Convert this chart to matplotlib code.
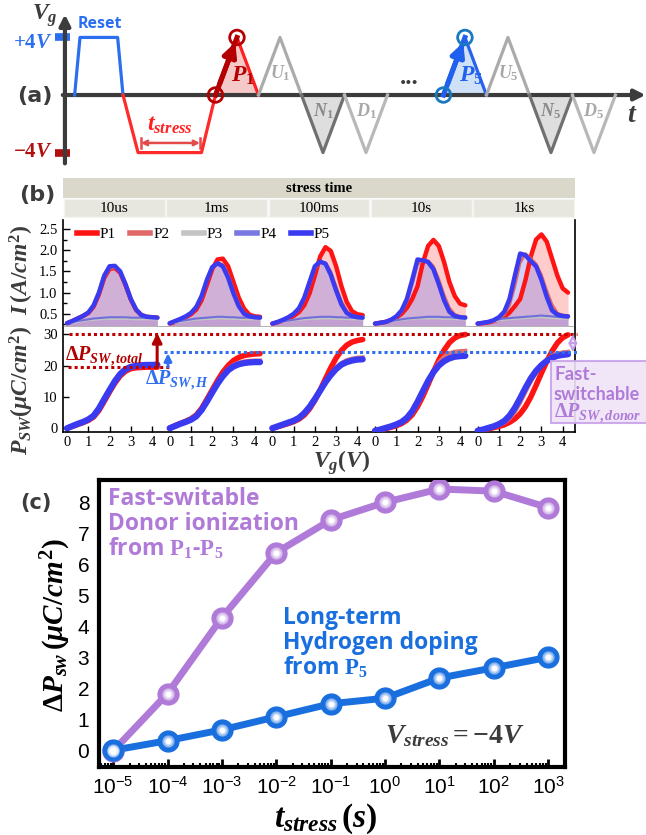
import matplotlib.pyplot as plt
from matplotlib.patches import Rectangle
from matplotlib.lines import Line2D
from matplotlib.ticker import MultipleLocator, LogLocator, NullFormatter

W, H = 646, 835
plt.rcParams['font.family'] = ['Liberation Serif', 'DejaVu Serif']
plt.rcParams['mathtext.fontset'] = 'custom'
plt.rcParams['mathtext.rm'] = 'Liberation Serif:bold'
plt.rcParams['mathtext.it'] = 'Liberation Serif:italic:bold'
plt.rcParams['mathtext.bf'] = 'Liberation Serif:bold'
plt.rcParams['mathtext.sf'] = 'Liberation Sans'

# ---------------- (a) pulse scheme, t in units of half a triangle, V in volts
reset_t = [0.45, 0.7, 2.45, 2.7]
reset_v = [0, 4, 4, 0]
stress_t = [2.7, 3.4, 6.35, 7.0]
stress_v = [0, -4, -4, 0]
pulse_start = [7.0, 9.0, 11.0, 13.0, 17.6, 19.6, 21.6, 23.6]
pulse_sign = [1, 1, -1, -1, 1, 1, -1, -1]
pulse_name = ['P_1', 'U_1', 'N_1', 'D_1', 'P_5', 'U_5', 'N_5', 'D_5']
amp = 4

# ---------------- (b) PUND curves, five stress times
stress_labels = ['10us', '1ms', '100ms', '10s', '1ks']
vg = [0, 0.25, 0.5, 0.75, 1, 1.25, 1.5, 1.75, 2, 2.25, 2.5, 2.75, 3, 3.25, 3.5, 3.75, 4, 4.25]
pw = 4.83  # panel pitch in volts

I_P1 = [
    [0.28, 0.33, 0.39, 0.45, 0.52, 0.67, 0.96, 1.35, 1.56, 1.58, 1.47, 1.18, 0.84, 0.59, 0.47, 0.43, 0.42, 0.41],
    [0.27, 0.31, 0.36, 0.42, 0.49, 0.60, 0.82, 1.18, 1.55, 1.78, 1.80, 1.62, 1.25, 0.88, 0.62, 0.48, 0.44, 0.43],
    [0.27, 0.30, 0.34, 0.39, 0.45, 0.54, 0.70, 0.98, 1.40, 1.85, 2.07, 1.98, 1.62, 1.15, 0.78, 0.56, 0.49, 0.47],
    [0.27, 0.29, 0.31, 0.35, 0.41, 0.50, 0.64, 0.85, 1.15, 1.70, 2.10, 2.24, 2.10, 1.72, 1.25, 0.92, 0.74, 0.70],
    [0.27, 0.28, 0.30, 0.33, 0.37, 0.43, 0.53, 0.68, 0.85, 1.30, 1.85, 2.25, 2.37, 2.20, 1.80, 1.40, 1.10, 1.00],
]
I_P2 = [
    [0.28, 0.33, 0.39, 0.45, 0.52, 0.68, 0.97, 1.36, 1.57, 1.59, 1.48, 1.19, 0.85, 0.60, 0.47, 0.43, 0.42, 0.41],
    [0.28, 0.32, 0.37, 0.43, 0.51, 0.64, 0.88, 1.25, 1.57, 1.70, 1.66, 1.42, 1.05, 0.74, 0.53, 0.45, 0.42, 0.41],
    [0.27, 0.31, 0.35, 0.41, 0.48, 0.60, 0.83, 1.18, 1.56, 1.72, 1.70, 1.50, 1.14, 0.80, 0.57, 0.47, 0.43, 0.42],
    [0.27, 0.29, 0.31, 0.35, 0.42, 0.54, 0.78, 1.18, 1.66, 1.77, 1.75, 1.62, 1.32, 0.95, 0.64, 0.49, 0.44, 0.43],
    [0.27, 0.28, 0.30, 0.33, 0.38, 0.48, 0.70, 1.15, 1.70, 1.92, 1.80, 1.68, 1.42, 1.05, 0.72, 0.52, 0.47, 0.46],
]
I_P3 = [
    [0.28, 0.29, 0.31, 0.33, 0.35, 0.36, 0.37, 0.38, 0.38, 0.38, 0.38, 0.38, 0.38, 0.37, 0.37, 0.37, 0.37, 0.37],
    [0.28, 0.29, 0.31, 0.33, 0.35, 0.36, 0.37, 0.38, 0.38, 0.39, 0.39, 0.38, 0.38, 0.38, 0.37, 0.37, 0.37, 0.37],
    [0.27, 0.29, 0.31, 0.33, 0.35, 0.36, 0.37, 0.38, 0.38, 0.39, 0.39, 0.39, 0.38, 0.38, 0.38, 0.37, 0.37, 0.37],
    [0.27, 0.28, 0.30, 0.32, 0.34, 0.36, 0.37, 0.38, 0.39, 0.39, 0.39, 0.39, 0.39, 0.38, 0.38, 0.38, 0.37, 0.37],
    [0.27, 0.28, 0.30, 0.32, 0.34, 0.36, 0.37, 0.38, 0.39, 0.40, 0.41, 0.42, 0.42, 0.41, 0.40, 0.39, 0.39, 0.38],
]
I_P4 = [
    [0.30, 0.31, 0.33, 0.35, 0.37, 0.39, 0.40, 0.41, 0.42, 0.42, 0.42, 0.42, 0.41, 0.41, 0.41, 0.41, 0.41, 0.40],
    [0.29, 0.31, 0.33, 0.35, 0.37, 0.39, 0.40, 0.41, 0.42, 0.43, 0.43, 0.42, 0.42, 0.41, 0.41, 0.41, 0.40, 0.40],
    [0.28, 0.30, 0.32, 0.34, 0.36, 0.38, 0.40, 0.41, 0.42, 0.43, 0.43, 0.43, 0.42, 0.42, 0.41, 0.41, 0.40, 0.40],
    [0.28, 0.29, 0.31, 0.33, 0.35, 0.37, 0.39, 0.40, 0.41, 0.42, 0.43, 0.43, 0.43, 0.42, 0.42, 0.41, 0.41, 0.40],
    [0.28, 0.30, 0.32, 0.34, 0.37, 0.39, 0.40, 0.41, 0.42, 0.43, 0.44, 0.45, 0.46, 0.45, 0.44, 0.43, 0.42, 0.41],
]
I_P5 = [
    [0.28, 0.33, 0.39, 0.45, 0.53, 0.70, 1.00, 1.40, 1.62, 1.63, 1.50, 1.20, 0.85, 0.60, 0.47, 0.43, 0.42, 0.41],
    [0.28, 0.33, 0.38, 0.44, 0.52, 0.66, 0.92, 1.30, 1.60, 1.69, 1.62, 1.35, 0.98, 0.68, 0.50, 0.44, 0.42, 0.41],
    [0.27, 0.31, 0.36, 0.42, 0.50, 0.63, 0.88, 1.25, 1.62, 1.73, 1.68, 1.42, 1.05, 0.72, 0.52, 0.45, 0.42, 0.41],
    [0.27, 0.29, 0.31, 0.36, 0.44, 0.58, 0.85, 1.30, 1.78, 1.76, 1.72, 1.55, 1.20, 0.82, 0.55, 0.45, 0.42, 0.41],
    [0.27, 0.29, 0.31, 0.35, 0.42, 0.55, 0.85, 1.40, 1.92, 1.88, 1.74, 1.62, 1.30, 0.90, 0.58, 0.48, 0.45, 0.44],
]

Q_P1 = [
    [0.0, 0.6, 1.2, 1.8, 2.5, 3.6, 5.7, 8.6, 11.6, 14.4, 16.7, 18.2, 19.0, 19.3, 19.4, 19.5, 19.5, 19.5],
    [0.0, 0.8, 1.5, 2.2, 3.0, 4.2, 6.3, 9.2, 12.2, 15.2, 17.9, 20.0, 21.6, 22.6, 23.2, 23.5, 23.7, 23.8],
    [0.0, 0.5, 1.0, 1.5, 2.1, 2.9, 4.2, 6.2, 8.9, 12.2, 15.8, 19.3, 22.4, 24.8, 26.5, 27.5, 28.0, 28.3],
    [-0.8, -0.5, -0.1, 0.3, 0.8, 1.5, 2.6, 4.3, 6.9, 10.2, 14.0, 18.0, 21.7, 24.9, 27.3, 28.8, 29.6, 29.9],
    [-0.8, -0.5, -0.2, 0.2, 0.6, 1.1, 1.9, 3.0, 4.6, 6.9, 10.0, 13.7, 17.6, 21.3, 24.6, 27.2, 28.9, 29.8],
]
Q_P2 = [
    [0.0, 0.65, 1.3, 1.9, 2.6, 3.8, 6.0, 9.0, 11.9, 14.7, 17.0, 18.5, 19.3, 19.6, 19.8, 19.9, 19.9, 20.0],
    [0.0, 0.7, 1.4, 2.0, 2.8, 3.9, 5.9, 8.7, 11.6, 14.5, 17.0, 18.9, 20.2, 20.9, 21.3, 21.5, 21.6, 21.6],
    [0.0, 0.55, 1.1, 1.7, 2.3, 3.1, 4.5, 6.4, 8.9, 11.7, 14.6, 17.2, 19.3, 20.8, 21.7, 22.2, 22.5, 22.6],
    [-0.8, -0.45, 0.0, 0.45, 1.0, 1.75, 2.9, 4.8, 7.6, 11.0, 14.6, 18.0, 20.9, 22.8, 23.9, 24.4, 24.6, 24.7],
    [-0.8, -0.45, 0.0, 0.4, 1.0, 1.8, 3.1, 5.2, 8.2, 11.6, 14.9, 17.8, 20.0, 21.8, 23.0, 23.8, 24.2, 24.4],
]
Q_P5 = [
    [0.0, 0.7, 1.4, 2.0, 2.8, 4.0, 6.3, 9.3, 12.2, 15.0, 17.3, 18.8, 19.6, 19.9, 20.1, 20.2, 20.2, 20.3],
    [0.0, 0.7, 1.4, 2.0, 2.7, 3.8, 5.8, 8.5, 11.4, 14.2, 16.6, 18.5, 19.7, 20.4, 20.8, 21.0, 21.1, 21.1],
    [0.0, 0.6, 1.2, 1.8, 2.4, 3.3, 4.8, 6.8, 9.3, 12.0, 14.7, 17.0, 18.9, 20.3, 21.1, 21.6, 21.9, 22.0],
    [-0.8, -0.4, 0.1, 0.6, 1.2, 2.0, 3.3, 5.4, 8.4, 11.8, 15.1, 17.9, 20.0, 21.4, 22.3, 22.8, 23.0, 23.1],
    [-0.8, -0.4, 0.1, 0.6, 1.3, 2.3, 4.0, 6.5, 9.6, 12.9, 15.9, 18.3, 20.1, 21.5, 22.5, 23.1, 23.4, 23.6],
]
p_total_top = 30.0
p_total_low = 19.5
p_h_top = 24.3

# ---------------- (c) delta Psw vs stress time
t_stress = [1e-5, 1e-4, 1e-3, 1e-2, 1e-1, 1e0, 1e1, 1e2, 1e3]
dp_donor = [0.0, 1.85, 4.3, 6.4, 7.45, 8.02, 8.45, 8.38, 7.85]
dp_hydrogen = [0.02, 0.33, 0.68, 1.1, 1.52, 1.7, 2.35, 2.68, 3.02]

RED = '#ff1414'
BLUE = '#3a3af0'
PURPLE = '#b07ad9'
CBLUE = '#1a6fdf'
DARK = '#3c3c3c'

fig = plt.figure(figsize=(W / 100, H / 100), dpi=100)


def box(l, t, r, b):
    return fig.add_axes([l / W, 1 - b / H, (r - l) / W, (b - t) / H])


# ======================= (a)
axa = box(0, 0, 646, 168)
axa.set_xlim(-3.02, 27.02)
axa.set_ylim(-5.07, 6.6)
axa.axis('off')

axa.annotate('', xy=(27.0, 0), xytext=(-0.1, 0), zorder=2.5,
             arrowprops=dict(arrowstyle='-|>', color=DARK, lw=3, mutation_scale=16, shrinkA=0, shrinkB=0))
axa.annotate('', xy=(0, 5.6), xytext=(0, -4.75), zorder=2.5,
             arrowprops=dict(arrowstyle='-|>', color=DARK, lw=3, mutation_scale=16, shrinkA=0, shrinkB=0))
axa.plot([-0.47, 0.23], [4, 4], color='#2b6ff0', lw=5.5, solid_capstyle='butt')
axa.plot([-0.47, 0.23], [-4, -4], color='#b01010', lw=5.5, solid_capstyle='butt')

axa.plot(reset_t, reset_v, color='#2b6ff0', lw=2.3, zorder=3)
axa.plot(stress_t, stress_v, color='#ff2a2a', lw=2.3, zorder=3)

for s, sg, name in zip(pulse_start, pulse_sign, pulse_name):
    tt = [s, s + 1, s + 2]
    vv = [0, sg * amp, 0]
    kind = name[0]
    if kind == 'P':
        if name == 'P_1':
            col, dark, face, ring = '#ff2020', '#b40000', '#f6c9c9', '#b40000'
        else:
            col, dark, face, ring = '#2a62f0', '#2060ee', '#cfe1f7', '#1878c0'
        axa.fill(tt, vv, color=face, zorder=1)
        axa.plot(tt[1:], vv[1:], color=col, lw=2.3, zorder=3)
        axa.plot(tt[:2], vv[:2], color=dark, lw=3.6, zorder=4)
        axa.annotate('', xy=(s + 0.92, 3.65), xytext=(s + 0.2, 0.8), zorder=4,
                     arrowprops=dict(arrowstyle='-|>', color=dark, lw=3.6, mutation_scale=20,
                                     shrinkA=0, shrinkB=0))
        axa.scatter([s, s + 1], [0, amp], s=110, facecolors='none', edgecolors=ring, lw=2, zorder=6)
        axa.text(s + 1.3, 1.3, '$' + name + '$', color=dark, fontsize=17, ha='center', va='center', zorder=7)
    elif kind == 'U':
        axa.plot(tt, vv, color='#ababab', lw=2.3, zorder=3)
        axa.text(s + 1.0, 1.5, '$' + name + '$', color='#a8a8a8', fontsize=13, ha='center', va='center')
    elif kind == 'N':
        axa.fill(tt, vv, color='#dedede', zorder=1)
        axa.plot(tt, vv, color='#707070', lw=2.3, zorder=3)
        axa.text(s + 1.0, -1.1, '$' + name + '$', color='#8a8a8a', fontsize=13, ha='center', va='center')
    else:
        axa.plot(tt, vv, color='#b8b8b8', lw=2.3, zorder=3)
        axa.text(s + 1.0, -1.1, '$' + name + '$', color='#a8a8a8', fontsize=13, ha='center', va='center')

axa.annotate('', xy=(6.28, -3.33), xytext=(3.53, -3.33),
             arrowprops=dict(arrowstyle='<->', color='#e44a4a', lw=1.8, mutation_scale=8, shrinkA=0, shrinkB=0))
axa.plot([3.53, 3.53], [-3.7, -2.96], color='#e44a4a', lw=1.8)
axa.plot([6.28, 6.28], [-3.7, -2.96], color='#e44a4a', lw=1.8)
axa.text(4.9, -2.1, '$t_{stress}$', color='#ff2020', fontsize=17, ha='center', va='center')
axa.text(16.0, 1.2, '...', color=DARK, fontsize=18, fontweight='bold', ha='center', va='center')
axa.text(-0.95, 5.55, '$V_g$', color=DARK, fontsize=17, ha='center', va='center')
axa.text(-0.55, 3.6, '$+4V$', color='#2b6ff0', fontsize=15, ha='right', va='center')
axa.text(-0.55, -4.0, '$-4V$', color='#b01010', fontsize=15, ha='right', va='center')
axa.text(1.63, 4.9, 'Reset', color='#2b6ff0', fontsize=11.5, fontweight='bold',
         family='Open Sans', ha='center', va='center')
axa.text(26.4, -1.4, '$t$', color=DARK, fontsize=20, ha='center', va='center')
axa.text(-1.4, -0.1, '(a)', color=DARK, fontsize=16, fontweight='bold', family='DejaVu Sans',
         ha='center', va='center')

# ======================= (b) header
axh = box(63, 178, 575, 218)
axh.set_xlim(0, 5)
axh.set_ylim(0, 2)
axh.axis('off')
axh.add_patch(Rectangle((0, 1.0), 5, 1.0, fc='#d9d8ca', ec='none'))
axh.text(2.5, 1.5, 'stress time', fontsize=10.5, fontweight='bold', ha='center', va='center')
for i, lab in enumerate(stress_labels):
    axh.add_patch(Rectangle((i + 0.008, 0.04), 0.984, 0.92, fc='#e7e6df', ec='#f4f4f0', lw=1))
    axh.text(i + 0.5, 0.5, lab, fontsize=11, ha='center', va='center')

# ======================= (b) current
axu = box(63, 220, 575, 327)
axl = box(63, 327, 575, 432)
for ax in (axu, axl):
    ax.set_xlim(-0.19, 23.9)
axu.set_ylim(0.19, 2.71)
axl.set_ylim(-1.2, 32.3)

for k in range(5):
    x = [v + k * pw for v in vg]
    axu.fill_between(x, 0.19, I_P4[k], color='#dcd8f2', lw=0, alpha=0.8, zorder=1)
    axu.fill_between(x, 0.19, I_P1[k], color='#ff0000', lw=0, alpha=0.2, zorder=1)
    axu.fill_between(x, 0.19, I_P5[k], color='#797cee', lw=0, alpha=0.35, zorder=1)
    axu.plot(x, I_P1[k], color=RED, lw=3.2, zorder=3, solid_capstyle='round')
    axu.plot(x, I_P2[k], color='#e06868', lw=2.0, zorder=3)
    axu.plot(x, I_P3[k], color='#c4c4c4', lw=1.5, zorder=3)
    axu.plot(x, I_P4[k], color='#7070d8', lw=1.5, zorder=3)
    axu.plot(x, I_P5[k], color=BLUE, lw=3.2, zorder=4, solid_capstyle='round')

    axl.plot(x, Q_P1[k], color=RED, lw=4, zorder=3, solid_capstyle='round')
    axl.plot(x, Q_P2[k], color='#e07070', lw=3, zorder=3)
    axl.plot(x, Q_P5[k], color=BLUE, lw=4.5, zorder=4, solid_capstyle='round')

handles = [Line2D([], [], color=c, lw=4) for c in (RED, '#e06868', '#c4c4c4', '#7878e0', BLUE)]
axu.legend(handles, ['P1', 'P2', 'P3', 'P4', 'P5'], ncol=5, loc='upper left',
           bbox_to_anchor=(0.012, 1.0), frameon=False, fontsize=11, handlelength=1.3,
           handletextpad=0.2, columnspacing=0.95, borderaxespad=0.1)

axu.set_yticks([0.5, 1.0, 1.5, 2.0, 2.5])
axu.set_yticklabels(['0.5', '1.0', '1.5', '2.0', '2.5'])
axu.yaxis.set_minor_locator(MultipleLocator(0.25))
axu.set_xticks([])
axu.tick_params(axis='y', which='both', direction='in', labelsize=10.5, pad=4, width=1)
axu.tick_params(axis='y', which='major', length=5)
axu.tick_params(axis='y', which='minor', length=3)
axu.spines['top'].set_visible(False)
axu.spines['bottom'].set_color('#b4b4b4')
axu.spines['bottom'].set_linewidth(1.5)
for sp in ('left', 'right'):
    axu.spines[sp].set_linewidth(1.2)

axl.set_yticks([0, 10, 20, 30])
axl.set_xticks([k * pw + v for k in range(5) for v in range(5)])
axl.set_xticklabels([str(v) for k in range(5) for v in range(5)])
axl.tick_params(axis='both', direction='in', labelsize=10.5, length=4, width=1)
axl.tick_params(axis='x', pad=3)
axl.tick_params(axis='y', pad=4)
axl.spines['top'].set_visible(False)
for sp in ('left', 'right', 'bottom'):
    axl.spines[sp].set_linewidth(1.2)

dot = (0, (1, 1))
axl.hlines(p_total_top, 0.1, 24.0, color='#c00000', lw=2.2, linestyle=dot, clip_on=False, zorder=5)
axl.hlines(p_total_low, 0.05, 4.8, color='#c00000', lw=2.2, linestyle=dot, clip_on=False, zorder=5)
axl.hlines(p_h_top, 4.55, 24.0, color='#3070f0', lw=2.2, linestyle=dot, clip_on=False, zorder=5)
axl.annotate('', xy=(4.24, p_total_top + 0.4), xytext=(4.24, p_total_low),
             arrowprops=dict(arrowstyle='-|>', color='#b00000', lw=2.2, mutation_scale=14,
                             shrinkA=0, shrinkB=0), zorder=6)
axl.annotate('', xy=(4.75, p_h_top - 0.4), xytext=(4.75, p_total_low),
             arrowprops=dict(arrowstyle='-|>', color='#3070f0', lw=2.0, mutation_scale=11,
                             shrinkA=0, shrinkB=0), zorder=6)
axl.annotate('', xy=(23.8, p_h_top), xytext=(23.8, p_total_top), annotation_clip=False,
             arrowprops=dict(arrowstyle='<|-|>', ec='#c39be6', fc='#f3eafb', lw=1.5,
                             mutation_scale=12, shrinkA=0, shrinkB=0), zorder=6)
axl.text(-0.1, 22.8, r'$\Delta P_{SW,total}$', color='#b00000', fontsize=14.5, ha='left', va='center', zorder=7)
axl.text(3.67, 15.4, r'$\Delta P_{SW,H}$', color='#2f6ff0', fontsize=14.5, ha='left', va='center', zorder=7)

fig.text(22 / W, 1 - 270 / H, r'$I\,(A/cm^2)$', rotation=90, fontsize=17, color=DARK, ha='center', va='center')
fig.text(22 / W, 1 - 390 / H, r'$P_{SW}(\mu C/cm^2)$', rotation=90, fontsize=17, color=DARK,
         ha='center', va='center')
fig.text(342 / W, 1 - 463 / H, r'$V_g(V)$', fontsize=17, color=DARK, ha='center', va='center')
fig.text(37 / W, 1 - 195 / H, '(b)', fontsize=16, fontweight='bold', family='DejaVu Sans', color=DARK,
         ha='center', va='center')

# ======================= (c)
axc = box(99, 480, 565, 767)
axc.set_xscale('log')
axc.set_xlim(10 ** -5.26, 10 ** 3.31)
axc.set_ylim(-0.52, 8.74)
axc.plot(t_stress, dp_donor, color=PURPLE, lw=5, zorder=2)
axc.plot(t_stress, dp_hydrogen, color=CBLUE, lw=5, zorder=3)
for vals, col in ((dp_donor, PURPLE), (dp_hydrogen, CBLUE)):
    axc.plot(t_stress, vals, 'o', color=col, ms=15, zorder=4)
    axc.plot(t_stress, vals, 'o', color='white', alpha=0.35, ms=8, zorder=5)
    axc.plot(t_stress, vals, 'o', color='white', alpha=0.5, ms=5.5, zorder=6)
    axc.plot(t_stress, vals, 'o', color='white', ms=3, zorder=7)

axc.set_xticks(t_stress)
axc.set_xticklabels([r'$\mathsf{10^{%d}}$' % e for e in range(-5, 4)])
axc.xaxis.set_minor_locator(LogLocator(base=10, subs=[2, 3, 4, 5, 6, 7, 8, 9], numticks=20))
axc.xaxis.set_minor_formatter(NullFormatter())
axc.set_yticks(range(9))
axc.set_yticklabels([str(i) for i in range(9)], family='Liberation Sans')
axc.tick_params(axis='x', which='major', direction='in', length=6, width=2, labelsize=15, pad=7)
axc.tick_params(axis='x', which='minor', direction='in', length=3, width=1.5)
axc.tick_params(axis='y', length=0, labelsize=15, pad=7)
for sp in axc.spines.values():
    sp.set_linewidth(3)

fig.text(56 / W, 1 - 625 / H, r'$\Delta P_{sw}\,(\mu C/cm^2)$', rotation=90, fontsize=21, color='black',
         ha='center', va='center')
fig.text(326 / W, 1 - 819 / H, r'$t_{stress}\,(s)$', fontsize=24, color='black', ha='center', va='center')
fig.text(36 / W, 1 - 503 / H, '(c)', fontsize=15, fontweight='bold', family='DejaVu Sans', color=DARK,
         ha='center', va='center')

# overlay in pixel units for free-floating annotations
axo = fig.add_axes([0, 0, 1, 1], facecolor='none')
axo.set_xlim(0, W)
axo.set_ylim(H, 0)
axo.axis('off')
axo.add_patch(Rectangle((551, 361), 100, 62, fc='#efe4f8', ec='#c8a2ea', lw=1.5, alpha=0.9))
axo.text(554, 375, 'Fast-', color=PURPLE, fontsize=13.5, fontweight='bold', family='Lato', va='center')
axo.text(554, 394, 'switchable', color=PURPLE, fontsize=13, fontweight='bold', family='Lato', va='center')
axo.text(554, 413, r'$\Delta P_{SW,donor}$', color=PURPLE, fontsize=14.5, va='center')

axo.text(108, 487, 'Fast-switable\nDonor ionization\nfrom $\\mathbf{P_1}$-$\\mathbf{P_5}$', color=PURPLE,
         fontsize=16.5, fontweight='bold', family='Open Sans', va='top', ha='left', linespacing=1.05)
axo.text(283, 606, 'Long-term\nHydrogen doping\nfrom $\\mathbf{P_5}$', color=CBLUE,
         fontsize=16.5, fontweight='bold', family='Open Sans', va='top', ha='left', linespacing=1.05)
axo.text(385, 736, r'$V_{stress}=-4V$', color=DARK, fontsize=20, va='center', ha='left')

fig.savefig('out.png', dpi=100)
